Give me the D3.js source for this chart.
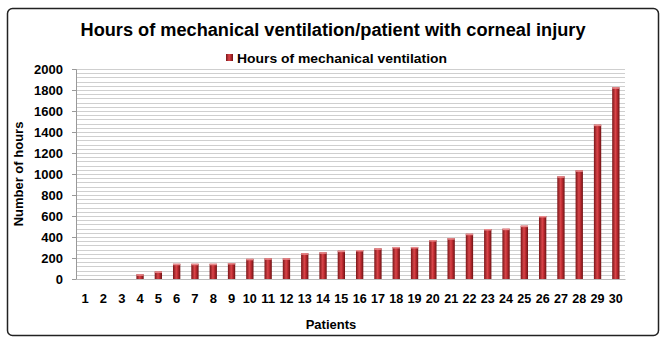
<!DOCTYPE html>
<html><head><meta charset="utf-8">
<script src="https://cdn.jsdelivr.net/npm/d3@7"></script>
<style>body{margin:0;background:#fff}svg{display:block}</style>
</head><body><svg id="c" width="668" height="343"></svg>
<script>
const patients = d3.range(1,31).map(String);
const hours = [0,0,0,45,72,145,145,145,152,192,197,197,245,254,270,276,292,305,305,371,389,431,476,479,508,600,978,1035,1470,1826];
const yTicks = [0,200,400,600,800,1000,1200,1400,1600,1800,2000];
const gridStep = 40;
const title = "Hours of mechanical ventilation/patient with corneal injury";
const seriesName = "Hours of mechanical ventilation";

const svg = d3.select("#c");
const font = "'Liberation Sans', Arial, sans-serif";
const defs = svg.append("defs");
const g = defs.append("linearGradient").attr("id","bar").attr("x1","0").attr("x2","1").attr("y1","0").attr("y2","0");
g.append("stop").attr("offset","0").attr("stop-color","#7a1518");
g.append("stop").attr("offset","0.45").attr("stop-color","#d8464a");
g.append("stop").attr("offset","0.6").attr("stop-color","#c83036");
g.append("stop").attr("offset","1").attr("stop-color","#6e1214");

svg.append("rect").attr("x",7.5).attr("y",8.5).attr("width",651).attr("height",327).attr("rx",5)
  .attr("fill","#fff").attr("stroke","#222").attr("stroke-width",1.5);

const x = d3.scaleBand().domain(patients).range([76,625]).paddingInner(0.6).paddingOuter(0.3);
const y = d3.scaleLinear().domain([0,2000]).range([279,69]);

// gridlines
svg.append("g").selectAll("line").data(d3.range(gridStep,2001,gridStep)).join("line")
  .attr("x1",76).attr("x2",625).attr("y1",d=>Math.round(y(d))+0.5).attr("y2",d=>Math.round(y(d))+0.5)
  .attr("stroke","#cfcfcf").attr("stroke-width",1);

// y axis
const ya = svg.append("g").attr("transform","translate(76,0)")
  .call(d3.axisLeft(y).tickValues(yTicks).tickFormat(d3.format("d")).tickSize(4).tickPadding(9));
ya.select(".domain").attr("stroke","#999");
ya.selectAll(".tick line").attr("stroke","#999");
ya.selectAll("text").attr("font-family",font).attr("font-size",13).attr("font-weight","bold").attr("fill","#000");

// x axis
const xa = svg.append("g").attr("transform","translate(0,279)")
  .call(d3.axisBottom(x).tickSize(0).tickPadding(15));
xa.select(".domain").attr("stroke","#bbb");
xa.selectAll("text").attr("font-family",font).attr("font-size",13).attr("font-weight","bold").attr("fill","#000")
  .attr("textLength",d=>d.length>1?14:null).attr("lengthAdjust","spacingAndGlyphs");

// bars
const bw = x.bandwidth();
const bars = svg.append("g").selectAll("g").data(patients.map((p,i)=>({p,v:hours[i]})).filter(d=>d.v>0)).join("g");
bars.append("rect").attr("x",d=>x(d.p)).attr("y",d=>y(d.v)).attr("width",bw).attr("height",d=>y(0)-y(d.v))
  .attr("fill","url(#bar)");
bars.append("rect").attr("x",d=>x(d.p)).attr("y",d=>y(d.v)).attr("width",bw).attr("height",1.5)
  .attr("fill","#e88a8c");

// titles
svg.append("text").attr("x",333).attr("y",36).attr("text-anchor","middle").attr("font-family",font)
  .attr("font-size",18).attr("font-weight","bold").attr("textLength",505).attr("lengthAdjust","spacingAndGlyphs").text(title);
svg.append("rect").attr("x",226).attr("y",54).attr("width",7).attr("height",7).attr("fill","url(#bar)");
svg.append("text").attr("x",237).attr("y",62.5).attr("font-family",font).attr("font-size",13.5).attr("font-weight","bold")
  .attr("textLength",210).attr("lengthAdjust","spacingAndGlyphs").text(seriesName);
svg.append("text").attr("x",331).attr("y",329).attr("text-anchor","middle").attr("font-family",font)
  .attr("font-size",13).attr("font-weight","bold").text("Patients");
svg.append("text").attr("transform","translate(23,174) rotate(-90)").attr("text-anchor","middle").attr("font-family",font)
  .attr("font-size",13).attr("font-weight","bold").text("Number of hours");
</script></body></html>
